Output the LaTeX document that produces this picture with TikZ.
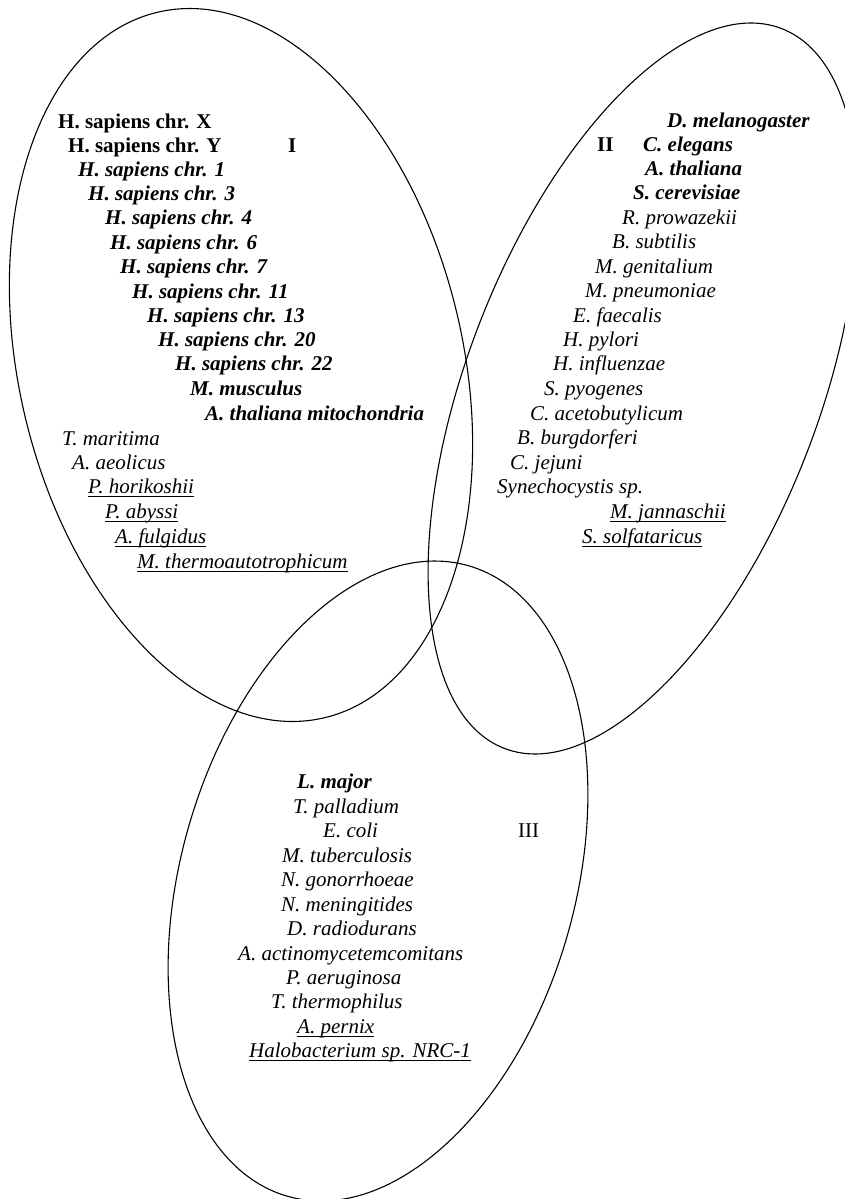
\documentclass[tikz,border=0pt]{standalone}
\usepackage{fontspec}
\setmainfont{Liberation Serif}
\newcommand{\spsize}{\fontsize{21}{24}\selectfont}
\newcommand{\undl}[1]{\setbox0\hbox{#1}\rlap{\rule[-3.5pt]{\wd0}{0.9pt}}\box0}

\begin{document}
\begin{tikzpicture}[x=1pt, y=-1pt,
  set/.style={line width=1.1pt},
  lbl/.style={anchor=base west, inner sep=0pt},
  up/.style={lbl, font=\spsize\bfseries},
  roman/.style={lbl, font=\spsize},
  bsp/.style={lbl, font=\spsize\bfseries\itshape},
  sp/.style={lbl, font=\spsize\itshape}]
\useasboundingbox (0,0) rectangle (845,1199);
\draw[set] (241,365) circle [x radius=222pt, y radius=362.5pt, rotate=13.3];
\draw[set] (643,388.5) circle [x radius=176pt, y radius=385.7pt, rotate=-21.06];
\draw[set] (378,881) circle [x radius=197pt, y radius=328pt, rotate=-16];
% set I
\node[up] (sapX) at (58,128) {H. sapiens chr. X};
\node[up] (sapY) at (68,152) {H. sapiens chr. Y};
\node[up] (setI) at (288,152) {I};
\node[bsp] (chr1) at (78,176) {H. sapiens chr. 1};
\node[bsp] (chr3) at (88,200) {H. sapiens chr. 3};
\node[bsp] (chr4) at (105,224) {H. sapiens chr. 4};
\node[bsp] (chr6) at (110,249) {H. sapiens chr. 6};
\node[bsp] (chr7) at (120,273) {H. sapiens chr. 7};
\node[bsp] (chr11) at (132,298) {H. sapiens chr. 11};
\node[bsp] (chr13) at (147,322) {H. sapiens chr. 13};
\node[bsp] (chr20) at (158,346) {H. sapiens chr. 20};
\node[bsp] (chr22) at (175,370) {H. sapiens chr. 22};
\node[bsp] (mmus) at (190,395) {M. musculus};
\node[bsp] (athm) at (205,420) {A. thaliana mitochondria};
\node[sp] (tmar) at (62,445) {T. maritima};
\node[sp] (aaeo) at (72,469) {A. aeolicus};
\node[sp] (phor) at (88,493) {\undl{P. horikoshii}};
\node[sp] (paby) at (105,518) {\undl{P. abyssi}};
\node[sp] (aful) at (115,543) {\undl{A. fulgidus}};
\node[sp] (mthe) at (137,568) {\undl{M. thermoautotrophicum}};
% set II
\node[bsp] (dmel) at (667,127) {D. melanogaster};
\node[up] (setII) at (597,151) {II};
\node[bsp] (cele) at (643,151) {C. elegans};
\node[bsp] (atha) at (645,175) {A. thaliana};
\node[bsp] (scer) at (633,199) {S. cerevisiae};
\node[sp] (rpro) at (622,224) {R. prowazekii};
\node[sp] (bsub) at (612,248) {B. subtilis};
\node[sp] (mgen) at (595,273) {M. genitalium};
\node[sp] (mpne) at (585,297) {M. pneumoniae};
\node[sp] (efae) at (573,322) {E. faecalis};
\node[sp] (hpyl) at (563,346) {H. pylori};
\node[sp] (hinf) at (553,370) {H. influenzae};
\node[sp] (spyo) at (544,395) {S. pyogenes};
\node[sp] (cace) at (530,420) {C. acetobutylicum};
\node[sp] (bbur) at (517,444) {B. burgdorferi};
\node[sp] (cjej) at (510,469) {C. jejuni};
\node[sp] (syne) at (497,493) {Synechocystis sp.};
\node[sp] (mjan) at (610,518) {\undl{M. jannaschii}};
\node[sp] (ssol) at (582,543) {\undl{S. solfataricus}};
% set III
\node[bsp] (lmaj) at (297,788) {L. major};
\node[sp] (tpal) at (293,813) {T. palladium};
\node[sp] (ecol) at (323,837) {E. coli};
\node[roman] (setIII) at (518,837) {III};
\node[sp] (mtub) at (282,862) {M. tuberculosis};
\node[sp] (ngon) at (281,886) {N. gonorrhoeae};
\node[sp] (nmen) at (281,911) {N. meningitides};
\node[sp] (drad) at (287,935) {D. radiodurans};
\node[sp] (aact) at (238,960) {A. actinomycetemcomitans};
\node[sp] (paer) at (286,984) {P. aeruginosa};
\node[sp] (tthe) at (271,1008) {T. thermophilus};
\node[sp] (aper) at (297,1033) {\undl{A. pernix}};
\node[sp] (halo) at (249,1057) {\undl{Halobacterium sp. NRC-1}};
\end{tikzpicture}
\end{document}
